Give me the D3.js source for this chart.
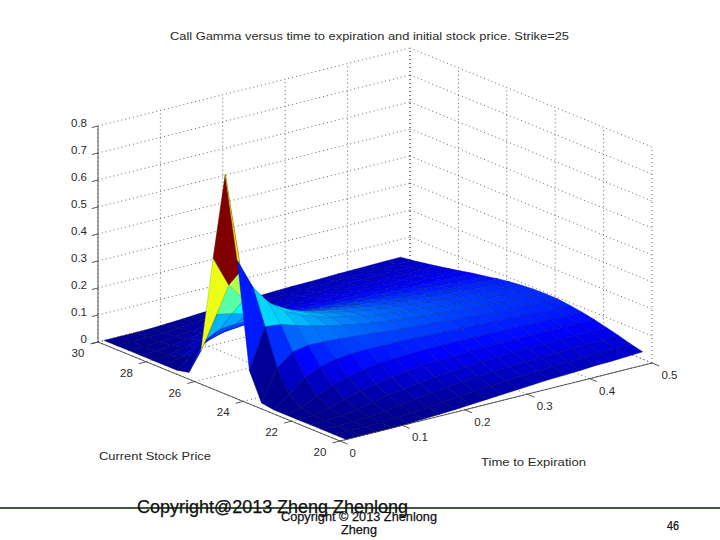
<!DOCTYPE html>
<html><head><meta charset="utf-8">
<script src="https://cdn.jsdelivr.net/npm/d3@7/dist/d3.min.js"></script>
<style>html,body{margin:0;padding:0;background:#fff}svg{display:block}text{font-family:"Liberation Sans",Arial,sans-serif}</style>
</head><body><svg id="c" width="720" height="540"></svg>
<script>
const titleText = "Call Gamma versus time to expiration and initial stock price. Strike=25";
const stockTitle = "Current Stock Price";
const timeTitle = "Time to Expiration";
const footerMain = "Copyright@2013 Zheng Zhenlong";
const footerSmall = ["Copyright © 2013 Zhenlong", "Zheng"];
const pageNumber = "46";
const stockTicks = [20,22,24,26,28,30];
const timeTicks = [0,0.1,0.2,0.3,0.4,0.5];
const gammaTicks = [0,0.1,0.2,0.3,0.4,0.5,0.6,0.7,0.8];
const stockPrices = [20,20.5,21,21.5,22,22.5,23,23.5,24,24.5,25,25.5,26,26.5,27,27.5,28,28.5,29,29.5,30];
const expiryTimes = [.01,.035,.06,.085,.11,.135,.16,.185,.21,.235,.26,.285,.31,.335,.36,.385,.41,.435,.46,.485];
// one row per expiry time, one value per stock price
const gammaRows = [
[0,0,0,0,0,0,0,.007,.108,.498,.798,.470,.108,.010,0,0,0,0,0,0,0],
[0,0,0,0,.002,.010,.042,.122,.256,.384,.427,.356,.229,.114,.045,.014,.004,.001,0,0,0],
[0,0,.001,.004,.014,.040,.091,.167,.250,.312,.325,.288,.218,.142,.081,.041,.018,.007,.002,.001,0],
[0,.001,.004,.013,.032,.066,.116,.177,.232,.268,.273,.248,.201,.147,.098,.060,.033,.017,.008,.003,.001],
[.001,.004,.011,.024,.049,.084,.129,.176,.216,.239,.240,.221,.186,.145,.104,.071,.045,.026,.015,.008,.004],
[.004,.008,.019,.036,.061,.096,.135,.172,.202,.217,.217,.201,.174,.141,.107,.078,.053,.034,.021,.012,.007],
[.007,.014,.026,.045,.071,.104,.137,.167,.190,.200,.199,.186,.163,.136,.107,.081,.058,.040,.027,.017,.011],
[.010,.019,.034,.054,.079,.108,.136,.162,.179,.188,.186,.174,.154,.131,.106,.083,.062,.044,.031,.021,.014],
[.014,.025,.040,.061,.085,.110,.136,.156,.170,.176,.173,.163,.146,.126,.104,.084,.064,.048,.035,.024,.017],
[.018,.030,.046,.066,.089,.112,.134,.151,.162,.167,.164,.155,.140,.121,.102,.083,.066,.051,.038,.028,.020],
[.022,.035,.052,.070,.091,.112,.132,.147,.156,.159,.156,.147,.133,.117,.100,.083,.067,.052,.040,.030,.022],
[.026,.039,.056,.074,.094,.113,.130,.142,.150,.152,.149,.140,.128,.114,.098,.082,.068,.054,.042,.032,.024],
[.030,.043,.059,.077,.095,.112,.127,.138,.144,.146,.143,.135,.124,.110,.096,.082,.068,.055,.044,.034,.026],
[.034,.047,.063,.079,.096,.112,.124,.134,.140,.140,.137,.130,.119,.107,.094,.081,.068,.056,.044,.035,.027],
[.036,.050,.065,.080,.096,.111,.122,.130,.135,.135,.132,.125,.115,.104,.092,.079,.067,.056,.046,.036,.028],
[.039,.053,.067,.083,.097,.110,.120,.127,.131,.131,.128,.121,.112,.102,.090,.078,.067,.056,.047,.038,.030],
[.043,.056,.070,.084,.097,.109,.118,.125,.128,.127,.124,.117,.109,.099,.088,.077,.067,.056,.047,.039,.031],
[.044,.058,.070,.084,.097,.108,.116,.121,.124,.123,.120,.114,.106,.097,.087,.076,.066,.056,.047,.039,.032],
[.047,.059,.072,.085,.096,.106,.114,.119,.121,.120,.116,.111,.103,.094,.085,.075,.065,.056,.048,.040,.033],
[.050,.061,.074,.085,.096,.105,.112,.117,.118,.117,.113,.108,.101,.092,.084,.074,.065,.056,.048,.040,.034]
];

const svg = d3.select("#c");
// oblique projection of the 3-D box, built from three linear scales
const sU = d3.scaleLinear().domain([20,30]).range([0,1]);
const tV = d3.scaleLinear().domain([0,0.5]).range([0,1]);
const zH = d3.scaleLinear().domain([0,0.8]).range([0,216]);
const origin = [340,441], sVec = [-242,-99], tVec = [312,-78];
const P = (s,t,z=0) => [
  origin[0] + sU(s)*sVec[0] + tV(t)*tVec[0],
  origin[1] + sU(s)*sVec[1] + tV(t)*tVec[1] - zH(z)
];
const colour = d3.scaleLinear()
  .domain([0,.11,.36,.61,.86,1].map(f => f*d3.max(gammaRows.flat())))
  .range(["rgb(0,0,143)","rgb(0,0,255)","rgb(0,255,255)","rgb(255,255,0)","rgb(255,0,0)","rgb(128,0,0)"])
  .clamp(true);

const segment = (g,a,b) => g.append("line")
  .attr("x1",a[0]).attr("y1",a[1]).attr("x2",b[0]).attr("y2",b[1]);

// dotted grid on two walls and floor
const grid = svg.append("g").attr("stroke","#333").attr("stroke-width",.75).attr("stroke-dasharray","1 3");
const [sMin,sMax] = d3.extent(stockTicks), [tMin,tMax] = d3.extent(timeTicks), [zMin,zMax] = d3.extent(gammaTicks);
gammaTicks.forEach(z => {
  segment(grid,P(sMax,tMin,z),P(sMax,tMax,z));
  segment(grid,P(sMax,tMax,z),P(sMin,tMax,z));
});
timeTicks.forEach(t => {
  segment(grid,P(sMax,t,zMin),P(sMax,t,zMax));
  segment(grid,P(sMin,t,zMin),P(sMax,t,zMin));
});
stockTicks.forEach(s => {
  segment(grid,P(s,tMax,zMin),P(s,tMax,zMax));
  segment(grid,P(s,tMin,zMin),P(s,tMax,zMin));
});

// surface, painted from the far corner towards the viewer
const surf = svg.append("g").attr("stroke-width",.5).attr("stroke-linejoin","round");
const line = d3.line();
d3.range(expiryTimes.length-2,-1,-1).forEach(j => {
  d3.range(stockPrices.length-2,-1,-1).forEach(i => {
    const q = [[i,j],[i+1,j],[i+1,j+1],[i,j+1]].map(([a,b]) => P(stockPrices[a],expiryTimes[b],gammaRows[b][a]));
    const c = colour(gammaRows[j][i]);
    surf.append("path").attr("d",line(q)+"Z").attr("fill",c).attr("stroke",d3.rgb(c).darker(0.9));
  });
});

// axes
const axes = svg.append("g").attr("stroke","#444").attr("stroke-width",.9);
segment(axes,P(sMax,tMin,zMin),P(sMax,tMin,zMax));
segment(axes,P(sMax,tMin,zMin),P(sMin,tMin,zMin));
segment(axes,P(sMin,tMin,zMin),P(sMin,tMax,zMin));
gammaTicks.forEach(z => segment(axes,P(sMax,tMin,z),P(sMax,-0.01,z)));
stockTicks.forEach(s => segment(axes,P(s,tMin),P(s,-0.012)));
timeTicks.forEach(t => segment(axes,P(sMin,t),P(19.7,t)));

const labels = svg.append("g").attr("fill","#2a2a2a").attr("font-size",11.5);
gammaTicks.forEach(z => { const p = P(sMax,tMin,z);
  labels.append("text").attr("x",p[0]-11).attr("y",p[1]+1).attr("text-anchor","end").text(String(z)); });
stockTicks.forEach(s => { const p = P(s,tMin);
  labels.append("text").attr("x",p[0]-20).attr("y",p[1]+15).attr("text-anchor","middle").text(String(s)); });
timeTicks.forEach(t => { const p = P(sMin,t);
  labels.append("text").attr("x",p[0]+9.5).attr("y",p[1]+16).text(String(t)); });
labels.append("text").attr("x",99).attr("y",460).attr("textLength",112).attr("lengthAdjust","spacingAndGlyphs").text(stockTitle);
labels.append("text").attr("x",481).attr("y",466).attr("textLength",105).attr("lengthAdjust","spacingAndGlyphs").text(timeTitle);
labels.append("text").attr("x",170).attr("y",40).attr("textLength",399).attr("lengthAdjust","spacingAndGlyphs").text(titleText);

// slide footer
svg.append("line").attr("x1",0).attr("x2",720).attr("y1",508).attr("y2",508).attr("stroke","#3d5a3d").attr("stroke-width",2);
const foot = svg.append("g").attr("fill","#111").attr("stroke","#111").attr("stroke-width",.25);
foot.append("text").attr("x",137).attr("y",513).attr("font-size",18).attr("textLength",271).attr("lengthAdjust","spacingAndGlyphs").text(footerMain);
foot.append("text").attr("x",281).attr("y",521).attr("font-size",13).attr("textLength",156).attr("lengthAdjust","spacingAndGlyphs").text(footerSmall[0]);
foot.append("text").attr("x",359).attr("y",534).attr("font-size",13).attr("text-anchor","middle").attr("textLength",36).attr("lengthAdjust","spacingAndGlyphs").text(footerSmall[1]);
foot.append("text").attr("x",673).attr("y",530).attr("font-size",12).attr("text-anchor","middle").attr("textLength",12).attr("lengthAdjust","spacingAndGlyphs").text(pageNumber);
</script></body></html>
